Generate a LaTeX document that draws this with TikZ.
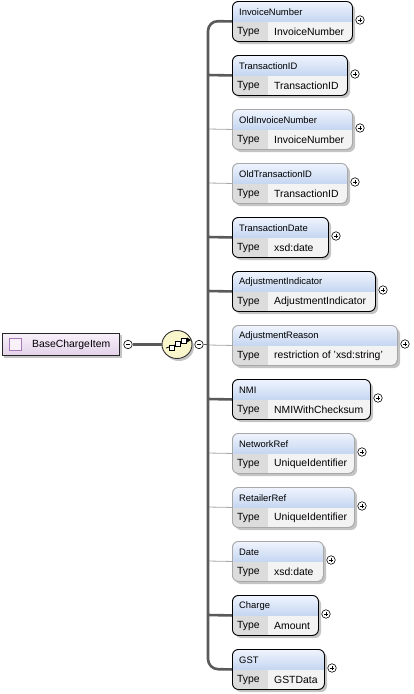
\documentclass[tikz,border=0pt]{standalone}
\usepackage{fontspec}
\setmainfont{Liberation Sans}
\usetikzlibrary{shapes.geometric}

\definecolor{linkgray}{HTML}{5A5A5A}
\definecolor{optgray}{HTML}{A8A8A8}
\definecolor{hdtop}{HTML}{F0F5FE}
\definecolor{hdbot}{HTML}{C4D5F0}
\definecolor{typegray}{HTML}{DCDCDC}
\definecolor{valgray}{HTML}{F3F3F3}
\definecolor{shadowgray}{HTML}{C4C4C4}
\definecolor{roottop}{HTML}{F8F1FA}
\definecolor{rootbot}{HTML}{E4D2EA}
\definecolor{iconline}{HTML}{A878B8}
\definecolor{seqfill}{HTML}{FAF6CC}

\tikzset{
	reqbox/.style={draw=black, line width=0.9pt, rounded corners=6pt, minimum height=40pt, anchor=north west, inner sep=0pt},
	optbox/.style={reqbox, draw=optgray},
	reqlink/.style={draw=linkgray, line width=2.6pt},
	optlink/.style={draw=optgray, line width=0.8pt},
	headtext/.style={anchor=west, inner sep=0pt, font=\fontsize{9.4}{11}\selectfont},
	celltext/.style={anchor=west, inner sep=0pt, font=\fontsize{10.4}{12}\selectfont},
	signmark/.style={circle, draw=black, fill=white, minimum size=8.5pt, inner sep=0pt, line width=0.6pt},
	plusmark/.style={signmark, path picture={
		\draw[line width=0.6pt] ([xshift=2pt]path picture bounding box.west) -- ([xshift=-2pt]path picture bounding box.east)
			([yshift=-2pt]path picture bounding box.north) -- ([yshift=2pt]path picture bounding box.south);}},
	minusmark/.style={signmark, path picture={
		\draw[line width=0.6pt] ([xshift=2pt]path picture bounding box.west) -- ([xshift=-2pt]path picture bounding box.east);}}
}

\begin{document}
\begin{tikzpicture}[x=1pt, y=-1pt]
	\useasboundingbox (0,0) rectangle (414,694);

	\foreach \nm/\ty/\bw/\kind [count=\i from 0] in {
		InvoiceNumber/InvoiceNumber/120/req,
		TransactionID/TransactionID/115/req,
		OldInvoiceNumber/InvoiceNumber/120/opt,
		OldTransactionID/TransactionID/115/opt,
		TransactionDate/xsd:date/96/req,
		AdjustmentIndicator/AdjustmentIndicator/143/req,
		AdjustmentReason/restriction of 'xsd:string'/165/opt,
		NMI/NMIWithChecksum/138/req,
		NetworkRef/UniqueIdentifier/122/opt,
		RetailerRef/UniqueIdentifier/122/opt,
		Date/xsd:date/91/opt,
		Charge/Amount/86/req,
		GST/GSTData/92/req}
	{
		\pgfmathsetmacro\ytop{1+54*\i}
		\coordinate (bus\i) at (208,\ytop+20);
		\fill[shadowgray, rounded corners=6pt] (235,\ytop+3) rectangle ++(\bw,40);
		\begin{scope}
			\clip[rounded corners=6pt] (232,\ytop) rectangle ++(\bw,40);
			\shade[top color=hdtop, bottom color=hdbot] (232,\ytop) rectangle ++(\bw,21);
			\fill[typegray] (232,\ytop+21) rectangle (268,\ytop+40);
			\fill[valgray] (268,\ytop+21) rectangle (232+\bw,\ytop+40);
		\end{scope}
		\node[\kind box, minimum width=\bw pt] (e\i) at (232,\ytop) {};
		\node[headtext] (n\i) at (239,\ytop+11) {\nm};
		\node[celltext] (t\i) at (237,\ytop+31) {Type};
		\node[celltext] (v\i) at (274,\ytop+31) {\ty};
		\node[plusmark] (p\i) at (240+\bw,\ytop+19) {};
		\ifnum\i>0 \ifnum\i<12
			\draw[\kind link] (bus\i) -- (e\i.west);
		\fi\fi
	}

	\draw[reqlink, rounded corners=10pt] (e0.west) -- (bus0) -- (bus12) -- (e12.west);

	\fill[shadowgray] (4,335) rectangle (122,358);
	\shade[top color=roottop, bottom color=rootbot, draw=black!85, line width=0.9pt] (2,333) rectangle (119,355);
	\node[draw=iconline, fill=roottop, line width=0.8pt, minimum size=12pt, inner sep=0pt] (icon) at (15.5,344.5) {};
	\node[celltext] (root) at (32,344.5) {BaseChargeItem};
	\node[minusmark] (mroot) at (128,344.5) {};

	\fill[shadowgray] (179,347) ellipse (15 and 14);
	\node[ellipse, draw=black!80, fill=seqfill, line width=0.9pt, minimum width=30pt, minimum height=28pt] (seq) at (177,344.5) {};
	\draw[line width=0.8pt] (166,348) -- (190,340);
	\foreach \sx/\sy in {169/350, 175/346.5, 181/343}
		\draw[line width=0.7pt, fill=white] (\sx,\sy) rectangle ++(5,-5);
	\fill (191,340) -- (187,337.5) -- (187,342.5) -- cycle;
	\node[minusmark] (mseq) at (199,344.5) {};

	\draw[reqlink] (mroot.east) -- (seq.west);
	\draw[optlink, draw=linkgray] (mseq.east) -- (mseq.east -| bus6);
\end{tikzpicture}
\end{document}
